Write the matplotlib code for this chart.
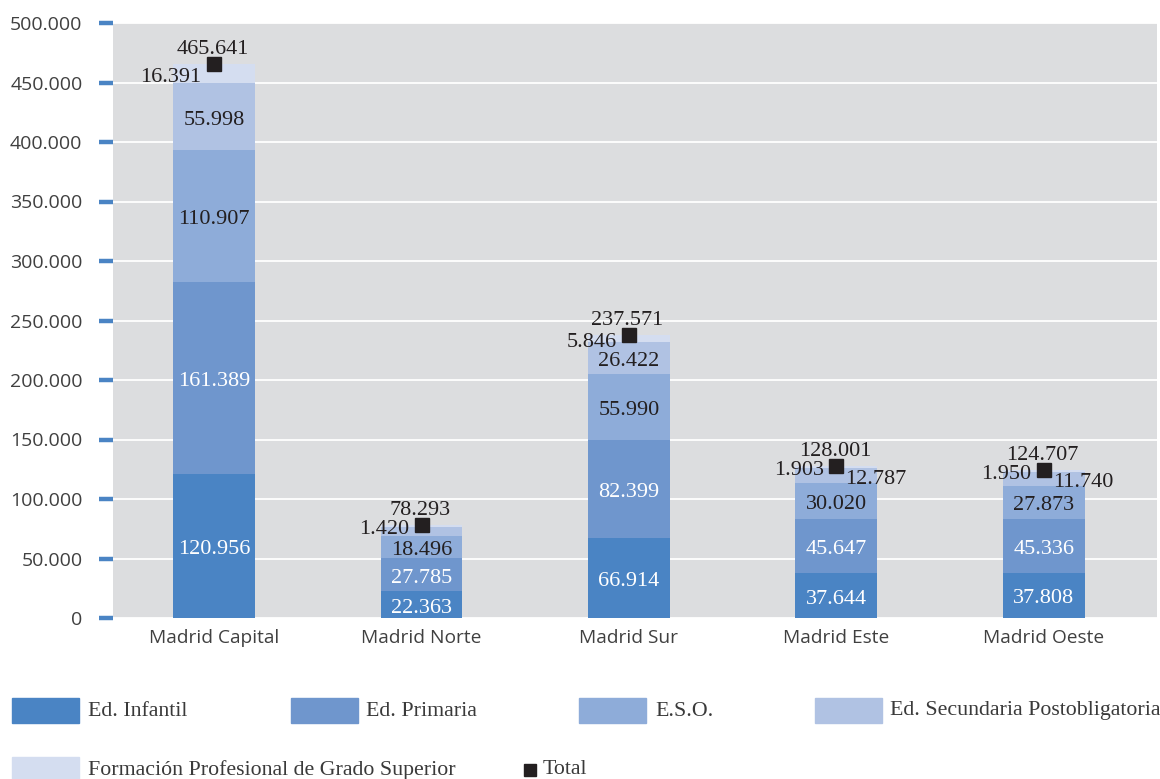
import matplotlib
matplotlib.use("Agg")
import matplotlib.pyplot as plt
from matplotlib.patches import Rectangle
from matplotlib.lines import Line2D
from matplotlib.ticker import FuncFormatter, MultipleLocator
from matplotlib.transforms import offset_copy
import numpy as np

categories = ["Madrid Capital", "Madrid Norte", "Madrid Sur", "Madrid Este", "Madrid Oeste"]
series_names = ["Ed. Infantil", "Ed. Primaria", "E.S.O.", "Ed. Secundaria Postobligatoria",
                "Formación Profesional de Grado Superior"]
infantil = [120956, 22363, 66914, 37644, 37808]
primaria = [161389, 27785, 82399, 45647, 45336]
eso = [110907, 18496, 55990, 30020, 27873]
sec_post = [55998, 8229, 26422, 12787, 11740]
fp_superior = [16391, 1420, 5846, 1903, 1950]
total = [465641, 78293, 237571, 128001, 124707]
sec_post_labelled = [True, False, True, True, True]

colors = ["#4a84c4", "#6f96cd", "#8eacd9", "#b0c2e3", "#d4ddf0"]
label_colors = ["white", "white", "#231f20", "#231f20", "#231f20"]
txt = "#231f20"
serif = "Liberation Serif"
sans = "Open Sans"
LFS = 16

def fmt(v):
    return f"{int(v):,}".replace(",", ".")

W, H = 1160, 779
fig = plt.figure(figsize=(W / 100, H / 100), dpi=100)
ax = fig.add_axes([113 / W, (H - 618) / H, (1157 - 113) / W, (618 - 23) / H])
ax.set_facecolor("#dcdddf")

x = np.arange(len(categories))
bw = 0.395
series = [infantil, primaria, eso, sec_post, fp_superior]
bottom = np.zeros(len(categories))
bottoms = []
for vals, c, name in zip(series, colors, series_names):
    ax.bar(x, vals, bw, bottom=bottom, color=c, label=name, zorder=2)
    bottoms.append(bottom.copy())
    bottom = bottom + np.array(vals)

ax.plot(x, total, linestyle="none", marker="s", markersize=10, color="#231f20", zorder=4)

def tr(dx, dy):
    return offset_copy(ax.transData, fig=fig, x=dx, y=dy, units="points")

for si, vals in enumerate(series):
    for i, v in enumerate(vals):
        yc = bottoms[si][i] + v / 2
        if si == 4:
            ax.text(x[i], yc, fmt(v), ha="right", va="center", color=txt, fontsize=LFS,
                    family=serif, transform=tr(-9, -2.5), zorder=5)
        elif si == 3 and i >= 3:
            ax.text(x[i], yc, fmt(v), ha="left", va="center", color=txt, fontsize=LFS,
                    family=serif, transform=tr(6.5, -2.5), zorder=5)
        elif si == 3 and not sec_post_labelled[i]:
            continue
        else:
            ax.text(x[i], yc, fmt(v), ha="center", va="center", color=label_colors[si],
                    fontsize=LFS, family=serif, transform=tr(0, -2.5), zorder=5)

for i, t in enumerate(total):
    ax.text(x[i], t, fmt(t), ha="center", va="center", color=txt, fontsize=LFS,
            family=serif, transform=tr(-1, 10.5), zorder=5)

ax.set_ylim(0, 500000)
ax.set_xlim(-0.487, 4.545)
ax.yaxis.set_major_locator(MultipleLocator(50000))
ax.yaxis.set_major_formatter(FuncFormatter(lambda v, p: fmt(v)))
ax.grid(axis="y", color="white", linewidth=1.3, zorder=1)
ax.set_axisbelow(True)
for s in ax.spines.values():
    s.set_visible(False)
ax.set_xticks(x)
ax.set_xticklabels(categories, family=sans, fontsize=13.75, color="#404040")
ax.tick_params(axis="x", length=0, pad=8)
ax.tick_params(axis="y", length=10, width=3.2, color="#4a84c4", pad=12,
               labelsize=14, labelcolor="#404040", direction="out")
for lab in ax.get_yticklabels():
    lab.set_family(sans)

# legend (figure pixel coordinates)
def fx(px):
    return px / W

def fy(py):
    return (H - py) / H

legend_items = [
    (12, 710, 88, 0), (291, 710, 366, 1), (579, 710, 655, 2), (815, 710, 890, 3),
    (12, 769, 88, 4),
]
for px, py, tx, si in legend_items:
    fig.patches.append(Rectangle((fx(px), fy(py + 12.5)), fx(67), 25 / H,
                                 transform=fig.transFigure, color=colors[si], zorder=3))
    fig.text(fx(tx), fy(py + 1), series_names[si], ha="left", va="center", fontsize=15.75,
             family=serif, color="#3a3a3a")
fig.lines.append(Line2D([fx(530)], [fy(770)], marker="s", markersize=9, color="#231f20",
                        linestyle="none", transform=fig.transFigure))
fig.text(fx(543), fy(770), "Total", ha="left", va="center", fontsize=15.75, family=serif,
         color="#3a3a3a")

fig.savefig("out.png", dpi=100, facecolor="white")
